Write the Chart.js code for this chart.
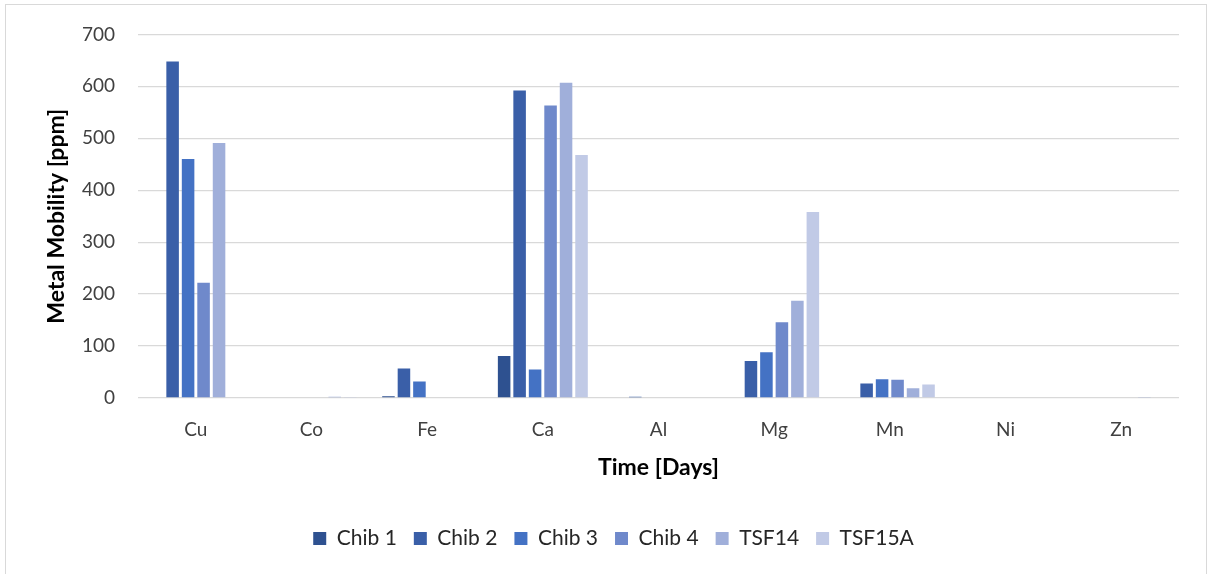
<!DOCTYPE html>
<html>
<head>
<meta charset="utf-8">
<script src="https://cdn.jsdelivr.net/npm/chart.js@4.4.1/dist/chart.umd.min.js"></script>
<style>
  html, body { margin: 0; padding: 0; background: #ffffff; }
  #wrap { position: relative; width: 1208px; height: 574px; }
  canvas { display: block; }
</style>
</head>
<body>
<div id="wrap"><canvas id="c" width="1208" height="574"></canvas></div>
<script>
const categories = ["Cu", "Co", "Fe", "Ca", "Al", "Mg", "Mn", "Ni", "Zn"];
const seriesNames = ["Chib 1", "Chib 2", "Chib 3", "Chib 4", "TSF14", "TSF15A"];
const chib1  = [0,   0,   3.5, 81,  0,   0,   0,  0, 0];
const chib2  = [648, 0,   57,  592, 2.5, 71,  28, 0, 0];
const chib3  = [460, 1.5, 32,  55,  0,   88,  36, 0, 0];
const chib4  = [222, 1.5, 0,   563, 0,   146, 35, 0, 0];
const tsf14  = [491, 2.5, 0,   607, 0,   187, 19, 0, 1];
const tsf15a = [0,   2,   0,   468, 0,   358, 26, 0, 0];
const yTicks = [0, 100, 200, 300, 400, 500, 600, 700];
const colors = ["#2E5190", "#3A5FA8", "#4472C4", "#6F89CB", "#A0AFDA", "#C1CAE6"];

const seriesValues = [chib1, chib2, chib3, chib4, tsf14, tsf15a];
const FONT = "Lato, 'Open Sans', 'DejaVu Sans', sans-serif";

const borderPlugin = {
  id: 'frame',
  afterLayout(chart) {
    if (chart.legend) {
      chart.legend.left += 24;
      chart.legend.right += 24;
    }
  },
  beforeDraw(chart) {
    const ctx = chart.ctx;
    ctx.save();
    ctx.fillStyle = '#ffffff';
    ctx.fillRect(0, 0, chart.width, chart.height);
    ctx.strokeStyle = '#d9d9d9';
    ctx.lineWidth = 1;
    ctx.strokeRect(5.5, 4.5, 1201, 620);
    ctx.restore();
  }
};

new Chart(document.getElementById('c'), {
  type: 'bar',
  data: {
    labels: categories,
    datasets: seriesNames.map((n, i) => ({
      label: n,
      data: seriesValues[i],
      backgroundColor: colors[i],
      borderWidth: 0,
      categoryPercentage: 0.803,
      barPercentage: 0.81
    }))
  },
  options: {
    responsive: false,
    animation: false,
    devicePixelRatio: 1,
    layout: { padding: { left: 0, right: 29, top: 33, bottom: 15 } },
    plugins: {
      legend: {
        position: 'bottom',
        labels: {
          boxWidth: 13, boxHeight: 13,
          padding: 17,
          color: '#262626',
          font: { family: FONT, size: 21 }
        }
      },
      tooltip: { enabled: false }
    },
    scales: {
      x: {
        grid: { display: false, drawTicks: false },
        border: { display: false },
        ticks: { color: '#404040', font: { family: FONT, size: 19 }, padding: 20 },
        title: {
          display: true, text: 'Time [Days]', color: '#000000',
          font: { family: FONT, size: 23, weight: 'bold' },
          padding: { top: 0, bottom: 29.7 }
        },
        afterFit(scale) { scale.height = 113; }
      },
      y: {
        min: 0, max: 700,
        afterBuildTicks(scale) { scale.ticks = yTicks.map(v => ({ value: v })); },
        grid: { color: '#d9d9d9', lineWidth: 1.3, drawTicks: false },
        border: { display: false },
        ticks: { color: '#404040', font: { family: FONT, size: 19 }, padding: 23 },
        title: {
          display: true, text: 'Metal Mobility [ppm]', color: '#000000',
          font: { family: FONT, size: 23, weight: 'bold' },
          padding: { top: 43, bottom: 0 }
        },
        afterFit(scale) { scale.width = 138; }
      }
    }
  },
  plugins: [borderPlugin]
});
</script>
</body>
</html>
